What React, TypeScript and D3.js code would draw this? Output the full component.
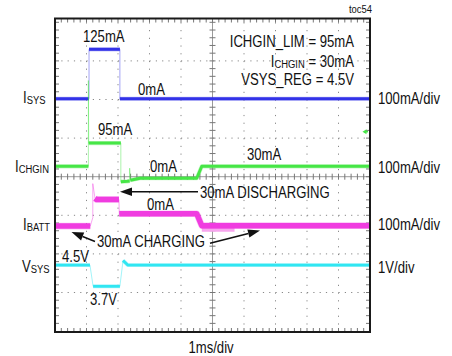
import React from 'react';
import * as d3 from 'd3';

// ---- data (time in ms, values in channel units) ----
const ISYS_T = [0, 1.08, 1.08, 2.06, 2.06, 10];
const ISYS_V = [0, 0, 128, 128, 0, 0];

const ICHGIN_T = [0, 1.06, 1.06, 1.07, 2.09, 2.09, 2.3, 2.37, 2.37, 2.39, 2.7, 4.5, 4.66, 10];
const ICHGIN_V = [30, 30, 252, 90, 90, -10, -9, -8, 25, -6, -1, -1, 30, 30];

const IBATT_T = [0, 1.12, 1.2, 1.2, 1.27, 1.32, 2.03, 2.04, 4.5, 4.66, 10];
const IBATT_V = [-32, -32, -10, 78, 40, 37, 37, 0, 0, -31, -31];
const IBATT_GHOST_T = [4.66, 5.7];
const IBATT_GHOST_V = [-40, -40];

const VSYS_T = [0, 1.11, 1.21, 2.06, 2.16, 2.31, 10];
const VSYS_V = [4.5, 4.5, 3.95, 3.95, 4.62, 4.5, 4.5];

const CH_NAMES = ['ISYS', 'ICHGIN', 'IBATT', 'VSYS'];
const CH_SCALE_LABELS = ['100mA/div', '100mA/div', '100mA/div', '1V/div'];
const CH_UNITS_PER_DIV = [100, 100, 100, 1];
const CH_OFFSET_DIV = [2.02, -0.03, -0.96, -6.79];
const CH_COLORS = ['#3232e8', '#46e646', '#f03ce0', '#30e6f2'];
const CH_WIDTHS = [3, 3, 5.5, 2.8];

const FONT = "'Liberation Sans', Arial, sans-serif";
const SQUEEZE = 0.82;

type TProps = { x: number; y: number; anchor?: 'start' | 'middle' | 'end'; size?: number; children: React.ReactNode };
function T({ x, y, anchor = 'start', size = 16, children }: TProps) {
  return (
    <g transform={`translate(${x},${y}) scale(${SQUEEZE},1)`}>
      <text x={0} y={0} textAnchor={anchor} style={{ fontFamily: FONT, fontSize: size, fill: '#111' }}>{children}</text>
    </g>
  );
}

export default function App() {
  const X0 = 55, X1 = 370, TOP = 18.5, BOTTOM = 332;
  const x = d3.scaleLinear().domain([0, 10]).range([X0, X1]);
  const yDiv = d3.scaleLinear().domain([-4, 4]).range([331.1, 22.3]);

  const series = [
    { t: ISYS_T, v: ISYS_V },
    { t: ICHGIN_T, v: ICHGIN_V },
    { t: IBATT_T, v: IBATT_V },
    { t: VSYS_T, v: VSYS_V },
  ];

  const chY = (ci: number, val: number) => yDiv(CH_OFFSET_DIV[ci] + val / CH_UNITS_PER_DIV[ci]);

  const line = d3.line<[number, number]>().x(d => d[0]).y(d => d[1]);

  const traces = series.map((s, ci) => {
    const pts: [number, number][] = s.t.map((t, i) => [x(t), chY(ci, s.v[i])]);
    const runs: [number, number][][] = [];
    let cur: [number, number][] = [];
    for (let i = 0; i < pts.length - 1; i++) {
      const a = pts[i], b = pts[i + 1];
      const dx = Math.abs(b[0] - a[0]), dy = Math.abs(b[1] - a[1]);
      const steep = dy > 4 && dy > 3 * dx;
      if (steep) {
        if (cur.length > 1) runs.push(cur);
        cur = [];
      } else {
        if (cur.length === 0) cur.push(a);
        cur.push(b);
      }
    }
    if (cur.length > 1) runs.push(cur);
    return { pts, runs };
  });

  const ghostPts: [number, number][] = IBATT_GHOST_T.map((t, i) => [x(t), chY(2, IBATT_GHOST_V[i])]);

  // grid
  const hMinor = (X1 - X0) / 50;
  const vMinor = (yDiv(0) - yDiv(1)) / 5;
  const vGridK = d3.range(1, 10).filter(k => k !== 5);
  const hGridK = d3.range(-3, 4).filter(k => k !== 0);
  const xMinor = d3.range(1, 50).map(i => X0 + i * hMinor);
  const yMinor = d3.range(-20, 21).map(i => yDiv(0) + i * vMinor).filter(y => y > TOP + 1 && y < BOTTOM - 1);
  const cx = x(5), cy = yDiv(0);

  const chLabelPos = [
    { x: 23, y: 103 },
    { x: 15, y: 171.7 },
    { x: 23, y: 230 },
    { x: 22, y: 271.5 },
  ];
  const chScaleY = [104, 173, 230, 273];

  const arrow = (x1: number, y1: number, x2: number, y2: number, key: string) => {
    const ang = Math.atan2(y2 - y1, x2 - x1);
    const L = 12, Wd = 4.2;
    const bx = x2 - L * Math.cos(ang), by = y2 - L * Math.sin(ang);
    const px = -Math.sin(ang) * Wd, py = Math.cos(ang) * Wd;
    return (
      <g key={key}>
        <line x1={x1} y1={y1} x2={bx} y2={by} stroke="#111" strokeWidth={1.5} />
        <path d={`M${x2},${y2}L${bx + px},${by + py}L${bx - px},${by - py}Z`} fill="#111" />
      </g>
    );
  };

  return (
    <svg width={452} height={356} style={{ position: 'absolute', left: 0, top: 0, background: '#fff' }}>
      {/* dotted grid */}
      {vGridK.map(k => (
        <line key={'vg' + k} x1={x(k)} x2={x(k)} y1={yDiv(4)} y2={BOTTOM}
          stroke="#888" strokeWidth={1} strokeDasharray={`1.2 ${vMinor - 1.2}`} />
      ))}
      {hGridK.map(k => (
        <line key={'hg' + k} x1={X0 + hMinor} x2={X1} y1={yDiv(k)} y2={yDiv(k)}
          stroke="#888" strokeWidth={1} strokeDasharray={`1.2 ${hMinor - 1.2}`} />
      ))}
      {/* center axes */}
      <line x1={cx} x2={cx} y1={TOP} y2={BOTTOM} stroke="#9a9a9a" strokeWidth={1} />
      <line x1={X0} x2={X1} y1={cy} y2={cy} stroke="#9a9a9a" strokeWidth={1} />
      {yMinor.map((y, i) => (
        <line key={'cyt' + i} x1={cx - 3} x2={cx + 3} y1={y} y2={y} stroke="#777" strokeWidth={1} />
      ))}
      {xMinor.map((xx, i) => (
        <line key={'cxt' + i} x1={xx} x2={xx} y1={cy - 3} y2={cy + 3} stroke="#777" strokeWidth={1} />
      ))}
      {/* frame ticks */}
      {xMinor.map((xx, i) => (
        <g key={'ft' + i}>
          <line x1={xx} x2={xx} y1={TOP} y2={TOP + 4} stroke="#777" />
          <line x1={xx} x2={xx} y1={BOTTOM - 4} y2={BOTTOM} stroke="#777" />
        </g>
      ))}
      {yMinor.map((y, i) => (
        <g key={'fl' + i}>
          <line x1={X0} x2={X0 + 4} y1={y} y2={y} stroke="#777" />
          <line x1={X1 - 4} x2={X1} y1={y} y2={y} stroke="#777" />
        </g>
      ))}

      {/* traces */}
      <path d={line(ghostPts) || ''} fill="none" stroke="#f7a6ee" strokeWidth={5} />
      {traces.map((tr, ci) => (
        <g key={'tr' + ci}>
          <path d={line(tr.pts) || ''} fill="none" stroke={CH_COLORS[ci]} strokeWidth={1} opacity={0.45} />
          {tr.runs.map((r, ri) => (
            <g key={ri}>
              <path d={line(r) || ''} fill="none" stroke={CH_COLORS[ci]} strokeWidth={CH_WIDTHS[ci] + 1.2} opacity={0.3} strokeLinejoin="round" />
              <path d={line(r) || ''} fill="none" stroke={CH_COLORS[ci]} strokeWidth={CH_WIDTHS[ci]} strokeLinejoin="round" />
            </g>
          ))}
        </g>
      ))}

      {/* trigger marker */}
      <path d="M362.5,131.7L366.5,129.2L366.5,134.2Z" fill={CH_COLORS[1]} />
      <line x1={364} x2={368} y1={131.7} y2={131.7} stroke={CH_COLORS[1]} strokeWidth={1.5} />

      {/* frame */}
      <rect x={X0} y={TOP} width={X1 - X0} height={BOTTOM - TOP} fill="none" stroke="#1a1a1a" strokeWidth={2} />

      {/* arrows */}
      {arrow(198, 191.7, 120, 191.7, 'a1')}
      {arrow(95, 241.5, 71.5, 232, 'a2')}
      {arrow(210, 243.3, 260, 230.5, 'a3')}

      {/* labels */}
      <T x={372} y={13} anchor="end" size={11.5}>toc54</T>
      <T x={83} y={41.5}>125mA</T>
      <T x={354} y={46.5} anchor="end">ICHGIN_LIM = 95mA</T>
      <T x={354} y={66.5} anchor="end">I<tspan fontSize={11.5} dy={1}>CHGIN</tspan><tspan dy={-1}> = 30mA</tspan></T>
      <T x={354} y={85} anchor="end">VSYS_REG = 4.5V</T>
      <T x={138} y={95}>0mA</T>
      <T x={98} y={135}>95mA</T>
      <T x={150} y={171.5}>0mA</T>
      <T x={247} y={160}>30mA</T>
      <T x={200} y={198}>30mA DISCHARGING</T>
      <T x={147} y={210}>0mA</T>
      <T x={97} y={246.5}>30mA CHARGING</T>
      <T x={62} y={261.5}>4.5V</T>
      <T x={90} y={305}>3.7V</T>
      <T x={211} y={353} anchor="middle">1ms/div</T>

      {CH_NAMES.map((n, i) => (
        <T key={'cn' + i} x={chLabelPos[i].x} y={chLabelPos[i].y}>
          {n[0]}<tspan fontSize={11.5} dy={1}>{n.slice(1)}</tspan>
        </T>
      ))}
      {CH_SCALE_LABELS.map((s, i) => (
        <T key={'cs' + i} x={378} y={chScaleY[i]}>{s}</T>
      ))}
    </svg>
  );
}
